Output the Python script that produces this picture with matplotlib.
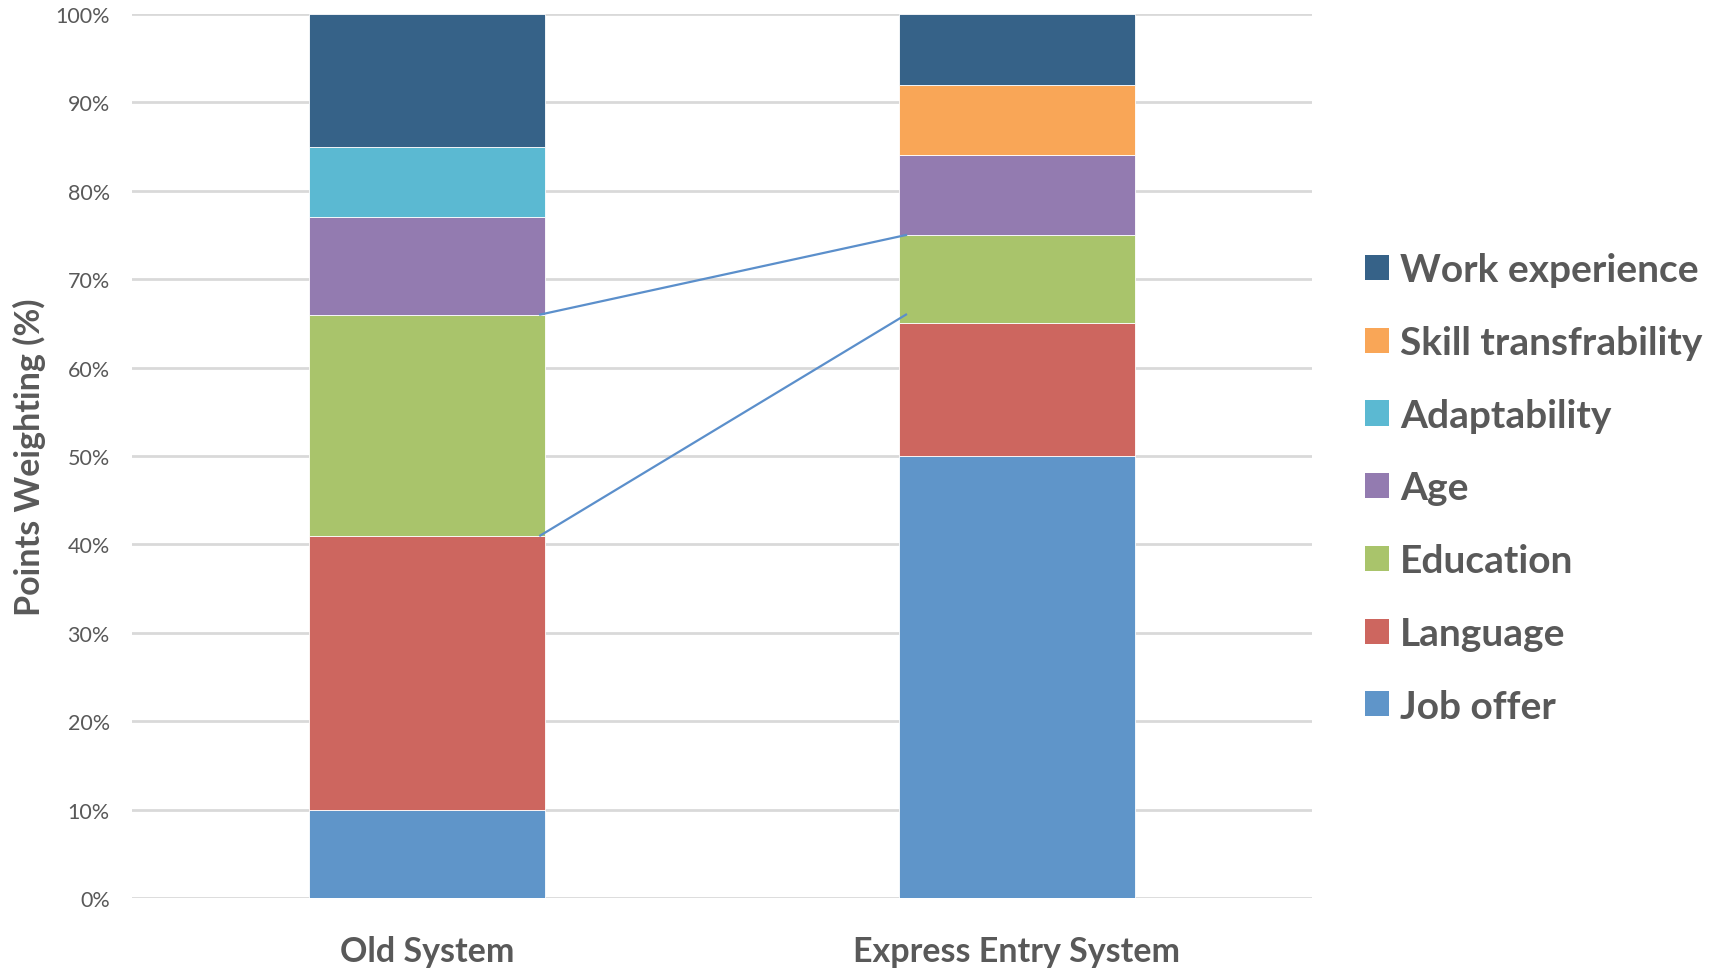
import matplotlib.pyplot as plt
from matplotlib.patches import Patch

# data (percent of total points)
systems = ["Old System", "Express Entry System"]
categories = ["Job offer", "Language", "Education", "Age",
              "Adaptability", "Skill transfrability", "Work experience"]
old_system = [10, 31, 25, 11, 8, 0, 15]
express_entry = [50, 15, 10, 9, 0, 8, 8]
colors = ["#5F95C9", "#CD665F", "#A9C46B", "#937BB0",
          "#5BB9D2", "#F9A657", "#366288"]

# connector lines between the two bars (old level -> new level)
link_from = [66, 41]
link_to = [75, 66]

plt.rcParams["font.family"] = ["Lato", "DejaVu Sans"]
text_gray = "#595959"

fig = plt.figure(figsize=(17.29, 9.70), dpi=100)
ax = fig.add_axes([0.0763, 0.0732, 0.6825, 0.9113])

x = [0, 1]
bar_w = 0.4
bottoms = [0, 0]
for cat, o, e, c in zip(categories, old_system, express_entry, colors):
    vals = [o, e]
    ax.bar(x, vals, bar_w, bottom=bottoms, color=c, edgecolor="white",
           linewidth=0.6, zorder=3, label=cat)
    bottoms = [b + v for b, v in zip(bottoms, vals)]

for y0, y1 in zip(link_from, link_to):
    ax.plot([x[0] + bar_w / 2 - 0.008, x[1] - bar_w / 2 + 0.012], [y0, y1],
            color="#5B8FCB", linewidth=1.6, zorder=4)

ax.set_xlim(-0.5, 1.5)
ax.set_ylim(0, 100)
ax.set_yticks(range(0, 101, 10))
ax.set_yticklabels([f"{v}%" for v in range(0, 101, 10)])
ax.set_xticks(x)
ax.set_xticklabels(systems, fontsize=24.5, fontweight="bold", color=text_gray)
ax.tick_params(axis="y", length=0, pad=16, labelsize=15.5, labelcolor=text_gray)
ax.tick_params(axis="x", length=0, pad=27)
ax.grid(axis="y", color="#D9D9D9", linewidth=2, zorder=0)
ax.set_axisbelow(True)
for s in ax.spines.values():
    s.set_visible(False)

ax.set_ylabel("Points Weighting (%)", fontsize=24.5, fontweight="bold",
              color=text_gray)
ax.yaxis.set_label_coords(-0.073, 0.5)

handles = [Patch(facecolor=c) for c in colors][::-1]
leg = fig.legend(handles, categories[::-1], loc="center left",
                 bbox_to_anchor=(0.7895, 0.496), frameon=False,
                 prop={"size": 28, "weight": "bold"},
                 handlelength=0.62, handleheight=0.62, handletextpad=0.28,
                 labelspacing=0.97, borderaxespad=0, borderpad=0)
for t in leg.get_texts():
    t.set_color(text_gray)

fig.savefig("out.png", dpi=100, facecolor="white")
